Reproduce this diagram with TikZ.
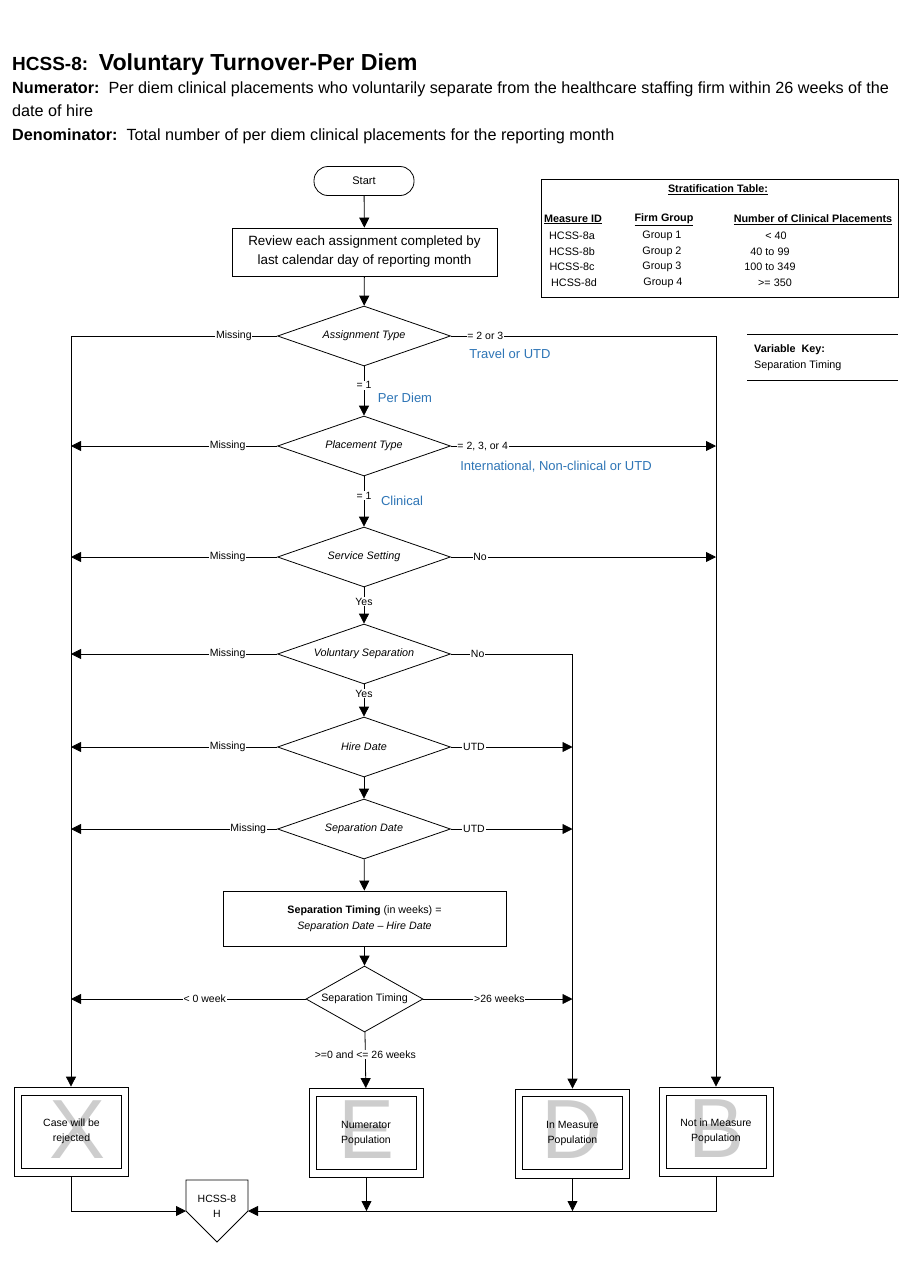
\documentclass[tikz,border=0pt]{standalone}
\usepackage{fontspec}
\setmainfont{Liberation Sans}
\usetikzlibrary{arrows.meta,shapes.geometric,calc}
\definecolor{myblue}{RGB}{46,117,182}
\definecolor{lettergray}{RGB}{205,205,205}
\tikzset{
  box/.style={draw, line width=0.8pt, align=center, inner sep=2pt},
  startbox/.style={draw, line width=0.8pt, rounded corners=14pt, minimum width=100pt, minimum height=29pt, font=\fontsize{11}{13}\selectfont},
  dec/.style={diamond, aspect=2.9, draw, line width=0.8pt, minimum width=173pt, minimum height=60pt, inner sep=0pt, font=\fontsize{10.8}{12}\selectfont\itshape},
  arr/.style={line width=0.8pt, -{Triangle[length=10pt,width=10pt]}},
  ln/.style={line width=0.8pt},
  lbl/.style={fill=white, inner sep=0.8pt, font=\fontsize{10.5}{12}\selectfont},
  bluelbl/.style={text=myblue, inner sep=0pt, font=\fontsize{13}{15}\selectfont},
  outerbox/.style={draw, line width=0.8pt, minimum width=114pt, minimum height=89pt},
  innerbox/.style={draw, line width=0.8pt, minimum width=100pt, minimum height=73pt, align=center, font=\fontsize{10.5}{15}\selectfont},
  bigletter/.style={text=lettergray, inner sep=0pt, anchor=base, font=\fontsize{84}{84}\selectfont},
  tabtxt/.style={inner sep=0pt, font=\fontsize{10.8}{12}\selectfont},
  tabhead/.style={inner sep=0pt, font=\fontsize{10.8}{12}\selectfont\bfseries},
}
\begin{document}
\begin{tikzpicture}[x=1pt,y=-1pt]
\useasboundingbox[fill=white] (0,0) rectangle (900,1286);

% header
\node[anchor=base west, inner sep=0pt] (title) at (12,70) {\bfseries\fontsize{19}{20}\selectfont HCSS-8:\ \ \fontsize{23.2}{24}\selectfont Voluntary Turnover-Per Diem};
\node[anchor=base west, inner sep=0pt] (num1) at (12,93) {\fontsize{16.2}{20}\selectfont\textbf{Numerator:}\ \ Per diem clinical placements who voluntarily separate from the healthcare staffing firm within 26 weeks of the};
\node[anchor=base west, inner sep=0pt] (num2) at (12,116) {\fontsize{16.2}{20}\selectfont date of hire};
\node[anchor=base west, inner sep=0pt] (den) at (12,140) {\fontsize{16.2}{20}\selectfont\textbf{Denominator:}\ \ Total number of per diem clinical placements for the reporting month};

% stratification table
\node[draw, line width=0.8pt, minimum width=357pt, minimum height=118pt, anchor=north west, inner sep=0pt] (strat) at (541,179) {};
\node[tabhead] (st) at (718,189.5) {\underline{Stratification Table:}};
\node[tabhead, anchor=west] (h1) at (544,219.5) {\underline{Measure ID}};
\node[tabhead] (h2) at (664,219.5) {\underline{Firm Group}};
\node[tabhead] (h3) at (813,219.5) {\underline{Number of Clinical Placements}};
\node[tabtxt] (m1) at (572,235.5) {HCSS-8a};
\node[tabtxt] (m2) at (572,251.5) {HCSS-8b};
\node[tabtxt] (m3) at (572,266.5) {HCSS-8c};
\node[tabtxt] (m4) at (574,282.5) {HCSS-8d};
\node[tabtxt] (g1) at (662,235.5) {Group 1};
\node[tabtxt] (g2) at (662,251.5) {Group 2};
\node[tabtxt] (g3) at (662,266.5) {Group 3};
\node[tabtxt] (g4) at (663,282.5) {Group 4};
\node[tabtxt] (n1) at (776,235.5) {< 40};
\node[tabtxt] (n2) at (770,251.5) {40 to 99};
\node[tabtxt] (n3) at (770,266.5) {100 to 349};
\node[tabtxt] (n4) at (775,282.5) {>= 350};

% variable key
\coordinate (vk1) at (747,334);
\coordinate (vk2) at (898,334);
\coordinate (vk3) at (747,380);
\coordinate (vk4) at (898,380);
\draw[ln] (vk1) -- (vk2);
\draw[ln] (vk3) -- (vk4);
\node[tabhead, anchor=west] (vkt) at (754,349.5) {Variable\ \ Key:};
\node[tabtxt, anchor=west] (vkv) at (754,365.5) {Separation Timing};

% flow nodes
\node[startbox] (start) at (364,181) {Start};
\node[box, minimum width=265pt, minimum height=48pt, font=\fontsize{13.4}{19}\selectfont] (review) at (364.5,252) {Review each assignment completed by\\last calendar day of reporting month};
\node[dec] (d1) at (364,336) {Assignment Type};
\node[dec] (d2) at (364,446) {Placement Type};
\node[dec] (d3) at (364,557) {Service Setting};
\node[dec] (d4) at (364,654) {Voluntary Separation};
\node[dec] (d5) at (364,747) {Hire Date};
\node[dec] (d6) at (364,829) {Separation Date};
\node[box, minimum width=283pt, minimum height=55pt, font=\fontsize{10.7}{16}\selectfont] (calc) at (364.5,918.5) {\textbf{Separation Timing} (in weeks) =\\\textit{Separation Date -- Hire Date}};
\node[dec, aspect=1.77, minimum width=117pt, minimum height=66pt, font=\fontsize{10.7}{12}\selectfont] (d7) at (364.5,999) {Separation Timing};

% bottom boxes
\node[outerbox] (X) at (71,1131.5) {};
\node[bigletter] (Xl) at (78,1158) {X};
\node[innerbox] (Xi) at (71.5,1131.5) {Case will be\\rejected};
\node[outerbox] (E) at (366.5,1133) {};
\node[bigletter] (El) at (367,1158) {E};
\node[innerbox] (Ei) at (366,1133) {Numerator\\Population};
\node[outerbox] (D) at (572.5,1133.5) {};
\node[bigletter] (Dl) at (572,1158) {D};
\node[innerbox] (Di) at (572.5,1133) {In Measure\\Population};
\node[outerbox] (B) at (716,1131.5) {};
\node[bigletter] (Bl) at (717,1157) {B};
\node[innerbox] (Bi) at (716,1131.5) {Not in Measure\\Population};

% off-page connector
\draw[ln] (186,1180) -- (248,1180) -- (248,1211) -- (217,1242) -- (186,1211) -- cycle;
\node[align=center, inner sep=0pt, font=\fontsize{10.5}{15}\selectfont] (hc) at (217,1206) {HCSS-8\\H};
\coordinate (hcL) at (186,1211);
\coordinate (hcR) at (248,1211);

% vertical flow
\draw[arr] (start) -- (review);
\draw[arr] (review) -- (d1);
\draw[arr] (d1) -- node[lbl, pos=0.38] {= 1} (d2);
\draw[arr] (d2) -- node[lbl, pos=0.38] {= 1} (d3);
\draw[arr] (d3) -- node[lbl, pos=0.39] {Yes} (d4);
\draw[arr] (d4) -- node[lbl, pos=0.29] {Yes} (d5);
\draw[arr] (d5) -- (d6);
\draw[arr] (d6) -- (calc);
\draw[arr] (calc) -- (d7);
\draw[arr] (d7) -- node[lbl, pos=0.4] {>=0 and <= 26 weeks} (E);

% blue annotations
\node[bluelbl] (t1) at (510,354) {Travel or UTD};
\node[bluelbl] (t2) at (405,398) {Per Diem};
\node[bluelbl] (t3) at (556,467) {International, Non-clinical or UTD};
\node[bluelbl] (t4) at (402,501) {Clinical};

% left branches
\draw[arr] (d1.west) -- node[lbl, pos=0.21] {Missing} (d1.west -| X.north) -- (X.north);
\draw[arr] (d2.west) -- node[lbl, pos=0.24] {Missing} (d2.west -| X.north);
\draw[arr] (d3.west) -- node[lbl, pos=0.24] {Missing} (d3.west -| X.north);
\draw[arr] (d4.west) -- node[lbl, pos=0.24] {Missing} (d4.west -| X.north);
\draw[arr] (d5.west) -- node[lbl, pos=0.24] {Missing} (d5.west -| X.north);
\draw[arr] (d6.west) -- node[lbl, pos=0.14] {Missing} (d6.west -| X.north);
\draw[arr] (d7.west) -- node[lbl, pos=0.43] {< 0 week} (d7.west -| X.north);

% right branches
\draw[arr] (d1.east) -- node[lbl, pos=0.13] {= 2 or 3} (d1.east -| B.north) -- (B.north);
\draw[arr] (d2.east) -- node[lbl, pos=0.12] {= 2, 3, or 4} (d2.east -| B.north);
\draw[arr] (d3.east) -- node[lbl, pos=0.11] {No} (d3.east -| B.north);
\draw[arr] (d4.east) -- node[lbl, pos=0.22] {No} (d4.east -| D.north) -- (D.north);
\draw[arr] (d5.east) -- node[lbl, pos=0.19] {UTD} (d5.east -| D.north);
\draw[arr] (d6.east) -- node[lbl, pos=0.19] {UTD} (d6.east -| D.north);
\draw[arr] (d7.east) -- node[lbl, pos=0.51] {>26 weeks} (d7.east -| D.north);

% bottom connectors
\draw[arr] (X.south) |- (hcL);
\draw[arr] (B.south) |- (hcR);
\draw[arr] (E.south) -- (E.south |- hcR);
\draw[arr] (D.south) -- (D.south |- hcR);
\end{tikzpicture}
\end{document}
